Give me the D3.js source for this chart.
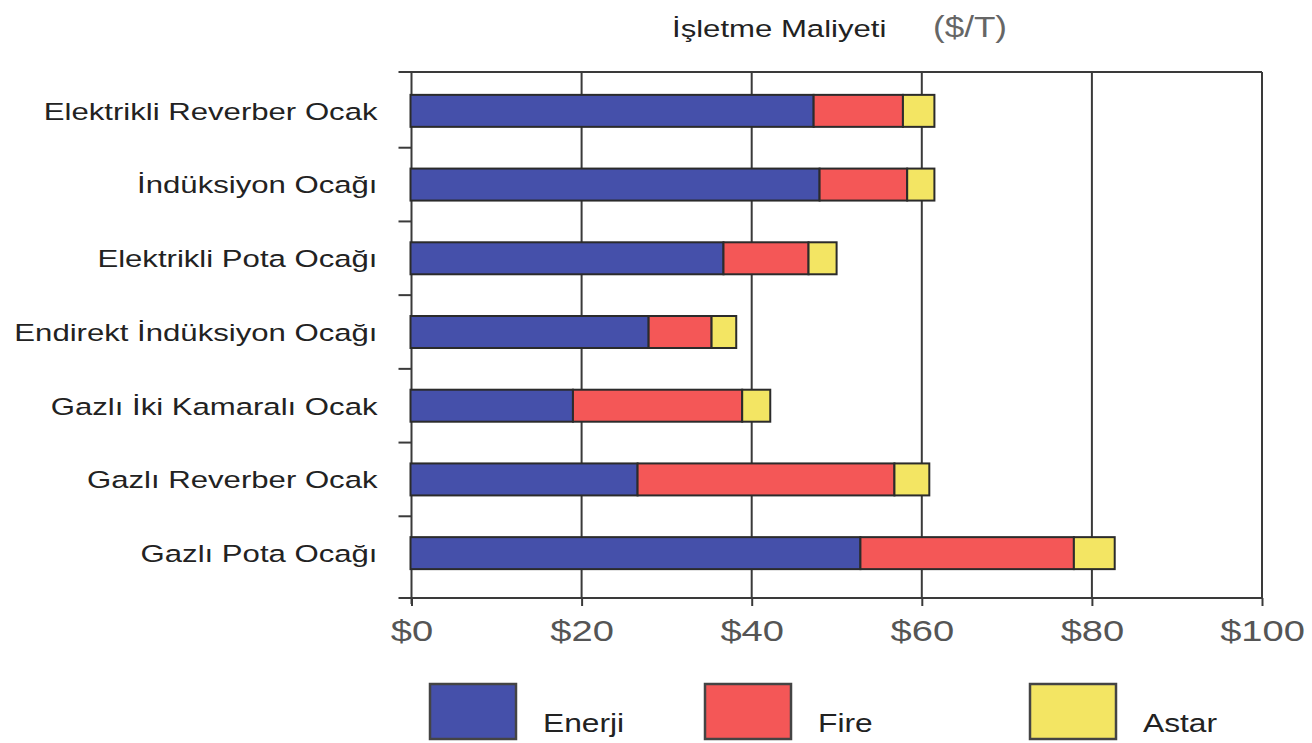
<!DOCTYPE html>
<html>
<head>
<meta charset="utf-8">
<script src="https://cdn.jsdelivr.net/npm/d3@7"></script>
<style>
body { margin: 0; background: #fff; }
svg { display: block; }
text { font-family: "Liberation Sans", Arial, sans-serif; }
</style>
</head>
<body>
<div id="chart"></div>
<script>
// data ($ per ton, per cost item)
var categories = [
	"Elektrikli Reverber Ocak",
	"İndüksiyon Ocağı",
	"Elektrikli Pota Ocağı",
	"Endirekt İndüksiyon Ocağı",
	"Gazlı İki Kamaralı Ocak",
	"Gazlı Reverber Ocak",
	"Gazlı Pota Ocağı"
];
var enerji = [47.4, 48.1, 36.8, 28.0, 19.1, 26.7, 52.9];
var fire   = [10.5, 10.3, 10.0, 7.4, 19.9, 30.2, 25.1];
var astar  = [3.7, 3.2, 3.3, 2.9, 3.3, 4.1, 4.8];
var seriesKeys = ["enerji", "fire", "astar"];
var seriesNames = ["Enerji", "Fire", "Astar"];
var xTicks = [0, 20, 40, 60, 80, 100];
var title = "İşletme Maliyeti";
var unit = "($/T)";

var width = 1312, height = 743;
var colors = {enerji: "#4550aa", fire: "#f45757", astar: "#f3e563"};
var ink = "#2b2b2b";
var lineCol = "#3a3a3a";
var sx = 1.27; // the scan is stretched sideways, so is the text

var plotTop = 72, plotBottom = 598, plotLeft = 411.5, plotRight = 1262;

var svg = d3.select("#chart")
	.append("svg")
	.attr("width", width)
	.attr("height", height);

var x = d3.scaleLinear().domain([0, 100]).range([plotLeft, plotRight]);
var y = d3.scaleBand().domain(categories).range([74, 590])
	.paddingInner(0.566).paddingOuter(0.283);

var rows = categories.map(function (c, i) {
	return {cat: c, enerji: enerji[i], fire: fire[i], astar: astar[i]};
});
var stacked = d3.stack().keys(seriesKeys)(rows);

// title
svg.append("text")
	.attr("transform", "translate(672,37) scale(" + sx + ",1)")
	.attr("font-size", 24.5)
	.attr("fill", "#222")
	.text(title);
svg.append("text")
	.attr("transform", "translate(933,37) scale(1.17,1)")
	.attr("font-size", 30)
	.attr("fill", "#666")
	.text(unit);

// vertical grid lines
svg.append("g")
	.selectAll("line")
	.data(xTicks.slice(1))
	.enter().append("line")
	.attr("x1", function (d) { return x(d); })
	.attr("x2", function (d) { return x(d); })
	.attr("y1", plotTop)
	.attr("y2", plotBottom)
	.attr("stroke", lineCol)
	.attr("stroke-width", 2);

// top border
svg.append("line")
	.attr("x1", plotLeft - 13).attr("x2", plotRight)
	.attr("y1", plotTop).attr("y2", plotTop)
	.attr("stroke", lineCol).attr("stroke-width", 2);

// bottom axis
var axisBottom = d3.axisBottom(x)
	.tickValues(xTicks)
	.tickSize(8)
	.tickPadding(14)
	.tickFormat(function (d) { return "$" + d; });
var gx = svg.append("g")
	.attr("transform", "translate(0," + plotBottom + ")")
	.call(axisBottom);
gx.select(".domain").remove();
gx.insert("line", ":first-child")
	.attr("x1", plotLeft - 13).attr("x2", plotRight)
	.attr("stroke", lineCol).attr("stroke-width", 2);
gx.selectAll(".tick line").attr("stroke", lineCol).attr("stroke-width", 2);
gx.selectAll(".tick text")
	.attr("font-size", 30)
	.attr("font-family", "Liberation Sans, Arial, sans-serif")
	.attr("fill", "#555")
	.attr("transform", "scale(" + sx + ",1)");

// left axis: line, ticks between bands, labels at band centres
var axisLeft = d3.axisLeft(y).tickSize(0).tickPadding(0);
var gy = svg.append("g")
	.attr("transform", "translate(" + plotLeft + ",0)")
	.call(axisLeft);
gy.select(".domain").remove();
gy.append("line")
	.attr("y1", plotTop).attr("y2", plotBottom + 6)
	.attr("stroke", lineCol).attr("stroke-width", 2);
gy.selectAll(".tick text")
	.attr("x", 0)
	.attr("dy", "0.36em")
	.attr("font-size", 24.5)
	.attr("font-family", "Liberation Sans, Arial, sans-serif")
	.attr("fill", "#222")
	.attr("transform", "translate(-34,0) scale(" + sx + ",1)");
gy.selectAll(".bandtick")
	.data(categories.slice(1))
	.enter().append("line")
	.attr("class", "bandtick")
	.attr("x1", -13).attr("x2", 0)
	.attr("y1", function (d) { return y(d) - y.step() * y.paddingInner() / 2; })
	.attr("y2", function (d) { return y(d) - y.step() * y.paddingInner() / 2; })
	.attr("stroke", lineCol).attr("stroke-width", 2);

// stacked bars
svg.append("g")
	.selectAll("g")
	.data(stacked)
	.enter().append("g")
	.attr("fill", function (s) { return colors[s.key]; })
	.selectAll("rect")
	.data(function (s) { return s; })
	.enter().append("rect")
	.attr("x", function (d) { return x(d[0]) - 1; })
	.attr("y", function (d) { return y(d.data.cat); })
	.attr("width", function (d) { return x(d[1]) - x(d[0]); })
	.attr("height", y.bandwidth())
	.attr("stroke", ink)
	.attr("stroke-width", 2);

// legend
var legendX = [430, 705, 1030];
var lg = svg.append("g")
	.selectAll("g")
	.data(seriesKeys)
	.enter().append("g")
	.attr("transform", function (d, i) { return "translate(" + legendX[i] + ",684)"; });
lg.append("rect")
	.attr("width", 86)
	.attr("height", 55)
	.attr("fill", function (d) { return colors[d]; })
	.attr("stroke", "#444")
	.attr("stroke-width", 2.5);
lg.append("text")
	.attr("transform", "translate(" + 113 + ",48) scale(" + sx + ",1)")
	.attr("font-size", 25)
	.attr("fill", "#222")
	.text(function (d, i) { return seriesNames[i]; });
</script>
</body>
</html>
